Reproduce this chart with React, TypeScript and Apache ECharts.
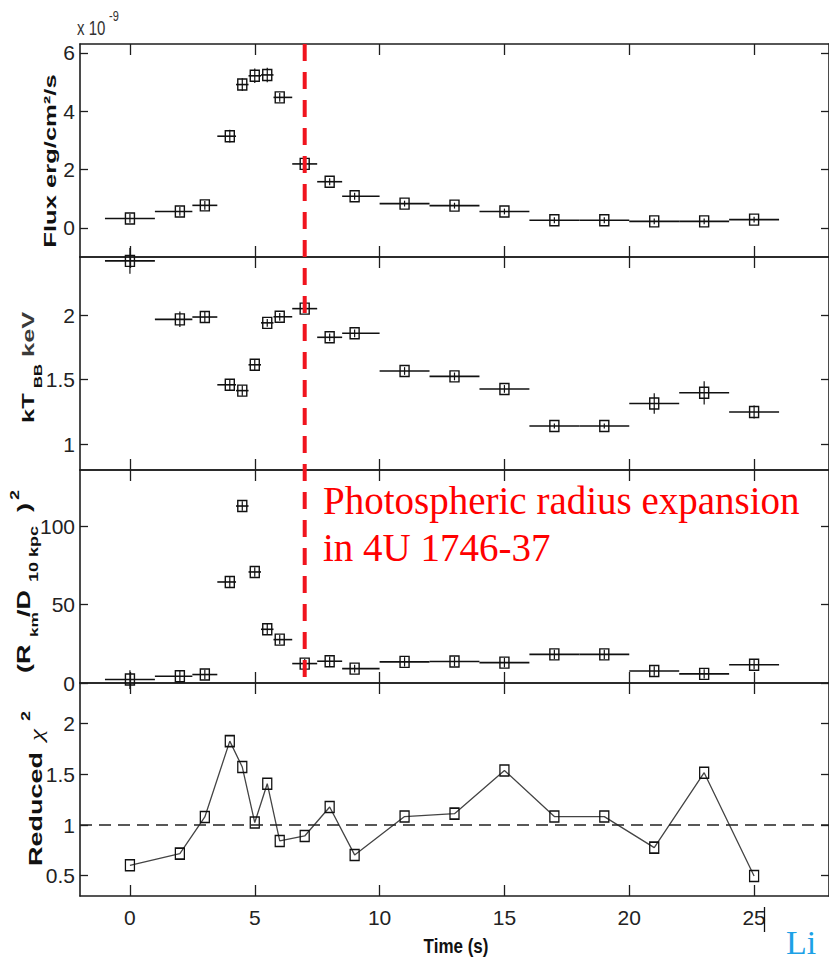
import React, { useEffect, useRef } from "react";
import * as echarts from "echarts";

// ---- data ----
const times = [0, 2, 3, 4, 4.5, 5, 5.5, 6, 7, 8, 9, 11, 13, 15, 17, 19, 21, 23, 25];
const binLo = [-1, 1, 2.5, 3.5, 4.25, 4.75, 5.25, 5.75, 6.5, 7.5, 8.5, 10, 12, 14, 16, 18, 20, 22, 24];
const binHi = [1, 2.5, 3.5, 4.25, 4.75, 5.25, 5.75, 6.5, 7.5, 8.5, 10, 12, 14, 16, 18, 20, 22, 24, 26];

const flux = [0.32, 0.56, 0.77, 3.14, 4.91, 5.21, 5.24, 4.47, 2.19, 1.58, 1.08, 0.83, 0.76, 0.56, 0.26, 0.26, 0.22, 0.22, 0.28];
const fluxErr = [0.15, 0.15, 0.15, 0.22, 0.22, 0.25, 0.25, 0.15, 0.15, 0.12, 0.12, 0.1, 0.1, 0.1, 0.1, 0.1, 0.1, 0.1, 0.1];

const kT = [2.42, 1.967, 1.985, 1.46, 1.415, 1.615, 1.94, 1.987, 2.05, 1.828, 1.859, 1.567, 1.525, 1.428, 1.141, 1.141, 1.315, 1.398, 1.249];
const kTErr = [0.1, 0.06, 0.04, 0.04, 0.04, 0.04, 0.03, 0.03, 0.03, 0.03, 0.03, 0.03, 0.03, 0.03, 0.02, 0.02, 0.08, 0.09, 0.05];

const radius = [2.2, 4.3, 5.4, 64.5, 113, 70.9, 34.3, 27.7, 12.4, 13.9, 9.2, 13.5, 13.7, 13.0, 18.3, 18.3, 7.7, 5.8, 11.7];
const radiusErr = [6, 4, 3, 3.5, 3, 3, 3.5, 3, 3, 3, 2.5, 3, 3, 3, 3, 3, 3, 3, 3];

const chi2 = [0.603, 0.718, 1.079, 1.827, 1.571, 1.024, 1.407, 0.843, 0.892, 1.177, 0.705, 1.083, 1.112, 1.538, 1.083, 1.083, 0.777, 1.516, 0.498];

const xTicks = [0, 5, 10, 15, 20, 25];
const fluxTicks = [0, 2, 4, 6];
const kTTicks = [1, 1.5, 2];
const radiusTicks = [0, 50, 100];
const chi2Ticks = [0.5, 1, 1.5, 2];

const X_MIN = -2;
const X_MAX = 28;
const PRE_TIME = 7;

const panels = [
  { min: -1, max: 6.3, ticks: fluxTicks },
  { min: 0.8, max: 2.45, ticks: kTTicks },
  { min: 0, max: 136, ticks: radiusTicks },
  { min: 0.3, max: 2.4, ticks: chi2Ticks },
];

const AX = "#1e1e1e";
const NARROW = "'Liberation Sans Narrow', 'Arial Narrow', 'Liberation Sans', sans-serif";
const SANS = "'Liberation Sans', Arial, sans-serif";
const SERIF = "'Liberation Serif', 'Times New Roman', serif";

function errRows(vals: number[], errs: number[]) {
  return times.map((t, i) => [t, vals[i], binLo[i], binHi[i], vals[i] - errs[i], vals[i] + errs[i]]);
}

function renderErr(params: any, api: any) {
  const x = api.value(0);
  const y = api.value(1);
  const c = api.coord([x, y]);
  const l = api.coord([api.value(2), y]);
  const r = api.coord([api.value(3), y]);
  const b = api.coord([x, api.value(4)]);
  const t = api.coord([x, api.value(5)]);
  return {
    type: "group",
    children: [
      { type: "line", shape: { x1: l[0], y1: c[1], x2: r[0], y2: c[1] }, style: { stroke: "#111", lineWidth: 1.6 } },
      { type: "line", shape: { x1: c[0], y1: t[1], x2: c[0], y2: b[1] }, style: { stroke: "#111", lineWidth: 1.2 } },
      { type: "rect", shape: { x: c[0] - 4.5, y: c[1] - 5.5, width: 9, height: 11 }, style: { fill: "none", stroke: "#111", lineWidth: 1.4 } },
    ],
  };
}

function rotText(text: string, x: number, y: number, size: number, opts: any = {}) {
  return {
    type: "text",
    x,
    y,
    rotation: Math.PI / 2,
    scaleX: opts.scale ?? 1.5,
    z: 100,
    style: {
      text,
      fontSize: size,
      fontWeight: opts.weight ?? "bold",
      fontStyle: opts.style ?? "normal",
      fontFamily: opts.family ?? SANS,
      fill: opts.fill ?? "#111",
      align: opts.align ?? "left",
      textAlign: opts.align ?? "left",
      verticalAlign: "middle",
      textVerticalAlign: "middle",
    },
  };
}

function plainText(text: string, x: number, y: number, size: number, opts: any = {}) {
  return {
    type: "text",
    x,
    y,
    scaleX: opts.scaleX ?? 1,
    scaleY: opts.scaleY ?? 1,
    z: 100,
    style: {
      text,
      fontSize: size,
      fontWeight: opts.weight ?? "normal",
      fontFamily: opts.family ?? SANS,
      fill: opts.fill ?? "#111",
      align: opts.align ?? "left",
      textAlign: opts.align ?? "left",
      verticalAlign: "middle",
      textVerticalAlign: "middle",
    },
  };
}

export default function App() {
  const ref = useRef<HTMLDivElement>(null);

  useEffect(() => {
    if (!ref.current) return;
    const chart = echarts.init(ref.current, null, { renderer: "svg" });

    const gridTops = [44, 257, 470, 683];
    const grids = gridTops.map((top) => ({ left: 80, top, width: 751, height: 213, show: false }));

    const xAxes: any[] = [];
    const yAxes: any[] = [];
    panels.forEach((p, g) => {
      const isLast = g === 3;
      xAxes.push({
        type: "value",
        gridIndex: g,
        position: "bottom",
        min: X_MIN,
        max: X_MAX,
        axisLine: { show: true, onZero: false, lineStyle: { color: AX, width: 1.6 } },
        axisTick: { show: true, inside: true, length: 11, customValues: xTicks, lineStyle: { color: AX, width: 1.3 } },
        axisLabel: {
          show: isLast,
          customValues: xTicks,
          margin: 11,
          fontSize: 21,
          fontFamily: NARROW,
          color: "#222",
        },
        splitLine: { show: false },
      });
      xAxes.push({
        type: "value",
        gridIndex: g,
        position: "top",
        min: X_MIN,
        max: X_MAX,
        axisLine: { show: true, onZero: false, lineStyle: { color: AX, width: 1.6 } },
        axisTick: { show: true, inside: true, length: 11, customValues: xTicks, lineStyle: { color: AX, width: 1.3 } },
        axisLabel: { show: false },
        splitLine: { show: false },
      });
      yAxes.push({
        type: "value",
        gridIndex: g,
        position: "left",
        min: p.min,
        max: p.max,
        axisLine: { show: true, onZero: false, lineStyle: { color: AX, width: 1.6 } },
        axisTick: { show: true, inside: true, length: 8, customValues: p.ticks, lineStyle: { color: AX, width: 1.3 } },
        axisLabel: {
          show: true,
          customValues: p.ticks,
          margin: 5,
          fontSize: 21,
          fontFamily: NARROW,
          color: "#222",
        },
        splitLine: { show: false },
      });
      yAxes.push({
        type: "value",
        gridIndex: g,
        position: "right",
        min: p.min,
        max: p.max,
        axisLine: { show: true, onZero: false, lineStyle: { color: AX, width: 1.6 } },
        axisTick: { show: true, inside: true, length: 8, customValues: p.ticks, lineStyle: { color: AX, width: 1.3 } },
        axisLabel: { show: false },
        splitLine: { show: false },
      });
    });

    const errSeries = [
      errRows(flux, fluxErr),
      errRows(kT, kTErr),
      errRows(radius, radiusErr),
    ].map((rows, g) => ({
      type: "custom",
      xAxisIndex: 2 * g,
      yAxisIndex: 2 * g,
      data: rows,
      encode: { x: 0, y: 1 },
      renderItem: renderErr,
      clip: false,
      silent: true,
    }));

    const chiSeries = {
      type: "line",
      xAxisIndex: 6,
      yAxisIndex: 6,
      data: times.map((t, i) => [t, chi2[i]]),
      symbol: "rect",
      symbolSize: [9, 11],
      showSymbol: true,
      itemStyle: { color: "rgba(255,255,255,0)", borderColor: "#111", borderWidth: 1.4 },
      lineStyle: { color: "#444", width: 1.3 },
      silent: true,
      markLine: {
        silent: true,
        symbol: "none",
        label: { show: false },
        lineStyle: { color: "#222", type: [12, 7], width: 1.7 },
        data: [{ yAxis: 1 }],
      },
    };

    chart.setOption({
      animation: false,
      backgroundColor: "#ffffff",
      grid: grids,
      xAxis: xAxes,
      yAxis: yAxes,
      series: [...errSeries, chiSeries],
    });

    const top = chart.convertToPixel({ xAxisIndex: 0, yAxisIndex: 0 }, [PRE_TIME, panels[0].max]) as number[];
    const bottom = chart.convertToPixel({ xAxisIndex: 4, yAxisIndex: 4 }, [PRE_TIME, panels[2].min]) as number[];

    const graphics: any[] = [
      {
        type: "line",
        z: 50,
        shape: { x1: top[0], y1: top[1], x2: bottom[0], y2: bottom[1] },
        style: { stroke: "#f0141e", lineWidth: 4, lineDash: [17, 11] },
      },
      // y-axis titles
      rotText("Flux erg/cm²/s", 51, 161, 16.5, { align: "center", scale: 1.55 }),
      rotText("kT", 28, 423, 17),
      rotText("BB", 38, 388, 11),
      rotText("keV", 28, 357, 17, { fill: "#3a3a3a" }),
      rotText("(R", 24, 673, 18),
      rotText("km", 34, 637, 11.5),
      rotText("/D", 24, 617, 18),
      rotText("10 kpc", 34, 582, 12),
      rotText(")", 24, 512, 18),
      rotText("2", 15, 500, 12),
      rotText("Reduced", 36, 866, 18),
      rotText("χ", 37, 741, 18, { style: "italic", weight: "normal", family: SERIF }),
      rotText("2", 26, 721, 12),
      // x-axis title
      plainText("Time (s)", 456, 946, 17, { align: "center", weight: "bold", scaleY: 1.2 }),
      // exponent
      plainText("x 10", 77, 28, 15, { family: NARROW, fill: "#333", scaleY: 1.3 }),
      plainText("-9", 109, 16, 11, { family: NARROW, fill: "#333", scaleY: 1.3 }),
      // annotation
      plainText("Photospheric radius expansion", 323, 500, 39, { family: SERIF, fill: "#ff0000" }),
      plainText("in 4U 1746-37", 323, 547, 39, { family: SERIF, fill: "#ff0000" }),
      // bottom-right remnant caption
      plainText("Li", 786, 942, 34, { family: SERIF, fill: "#1da1e6" }),
      {
        type: "line",
        z: 100,
        shape: { x1: 764.5, y1: 907, x2: 764.5, y2: 932 },
        style: { stroke: "#111", lineWidth: 1.3 },
      },
    ];

    chart.setOption({ graphic: graphics });

    return () => chart.dispose();
  }, []);

  return (
    <div
      ref={ref}
      style={{ position: "fixed", left: 0, top: 0, width: 829, height: 960, background: "#fff" }}
    />
  );
}
